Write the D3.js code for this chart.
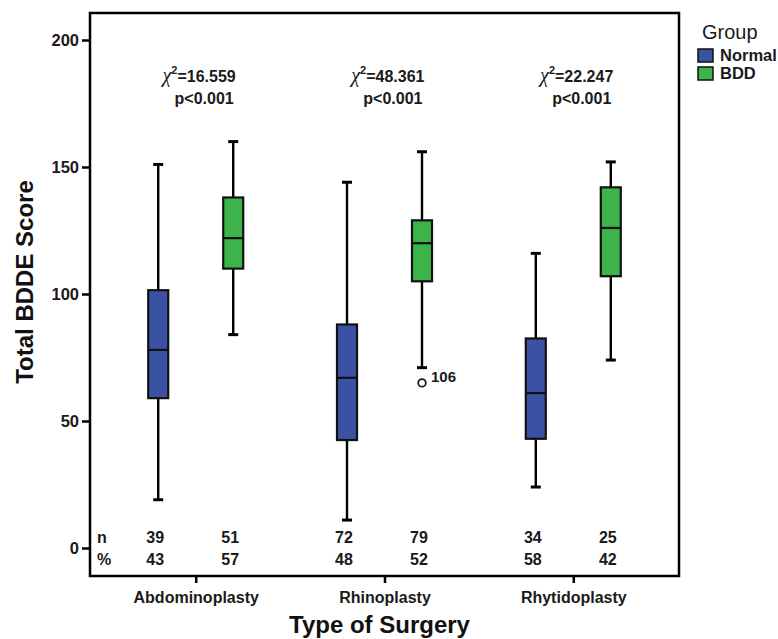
<!DOCTYPE html>
<html>
<head>
<meta charset="utf-8">
<script src="https://cdn.jsdelivr.net/npm/d3@7"></script>
<style>
body { margin: 0; background: #fff; }
text { font-family: "Liberation Sans", Arial, sans-serif; }
</style>
</head>
<body>
<svg width="778" height="639"></svg>
<script>
const surgeries = ["Abdominoplasty", "Rhinoplasty", "Rhytidoplasty"];
const groups = ["Normal", "BDD"];
const colors = ["#3b51a3", "#3cb44a"];

// [whiskerLow, q1, median, q3, whiskerHigh] per surgery, per group
const normalStats = [
    [19, 59, 78, 101.5, 151],
    [11, 42.5, 67, 88, 144],
    [24, 43, 61, 82.5, 116]
];
const bddStats = [
    [84, 110, 122, 138, 160],
    [71, 105, 120, 129, 156],
    [74, 107, 126, 142, 152]
];
const outliers = [{ surgery: "Rhinoplasty", group: 1, value: 65, label: "106" }];

const nCounts = [[39, 51], [72, 79], [34, 25]];
const percents = [[43, 57], [48, 52], [58, 42]];
const chiValues = ["16.559", "48.361", "22.247"];
const pValues = ["p<0.001", "p<0.001", "p<0.001"];
const yTicks = [0, 50, 100, 150, 200];

const svg = d3.select("svg");
const plotLeft = 90, plotRight = 679, plotTop = 13, plotBottom = 576;

const x = d3.scalePoint()
    .domain(surgeries)
    .range([plotLeft, plotRight])
    .padding(0.56);

const y = d3.scaleLinear()
    .domain([0, 200])
    .range([548, 40]);

const offset = 37.5;
const boxW = 20;
const capW = 10;
const ink = "#1a1a1a";

// frame
svg.append("rect")
    .attr("x", plotLeft).attr("y", plotTop)
    .attr("width", plotRight - plotLeft).attr("height", plotBottom - plotTop)
    .attr("fill", "none").attr("stroke", "#000").attr("stroke-width", 2.5);

// y axis
const yAxis = svg.append("g")
    .attr("transform", `translate(${plotLeft},0)`)
    .call(d3.axisLeft(y).tickValues(yTicks).tickSize(8).tickPadding(3));
yAxis.select(".domain").remove();
yAxis.selectAll("line").attr("stroke", "#000").attr("stroke-width", 2.5);
yAxis.selectAll("text")
    .attr("font-size", 16.5).attr("font-weight", "bold").attr("fill", ink)
    .style("font-family", "'Liberation Sans', Arial, sans-serif");

// x axis
const xAxis = svg.append("g")
    .attr("transform", `translate(0,${plotBottom})`)
    .call(d3.axisBottom(x).tickSize(7));
xAxis.select(".domain").remove();
xAxis.selectAll("line").attr("stroke", "#000").attr("stroke-width", 2.5);
xAxis.selectAll("text")
    .attr("font-size", 16).attr("font-weight", "bold").attr("fill", ink)
    .style("font-family", "'Liberation Sans', Arial, sans-serif")
    .attr("y", 27).attr("dy", 0);

// boxes
const boxes = [];
surgeries.forEach((s, i) => {
    [normalStats[i], bddStats[i]].forEach((st, g) => {
        boxes.push({ surgery: s, group: g, stats: st });
    });
});

const bx = d => x(d.surgery) + (d.group === 0 ? -offset : offset);

const bg = svg.append("g").selectAll("g")
    .data(boxes)
    .join("g");

bg.append("line")
    .attr("x1", bx).attr("x2", bx)
    .attr("y1", d => y(d.stats[0])).attr("y2", d => y(d.stats[4]))
    .attr("stroke", "#000").attr("stroke-width", 2.4);

bg.selectAll("line.cap")
    .data(d => [d.stats[0], d.stats[4]].map(v => ({ v, cx: bx(d) })))
    .join("line")
    .attr("class", "cap")
    .attr("x1", d => d.cx - capW / 2).attr("x2", d => d.cx + capW / 2)
    .attr("y1", d => y(d.v)).attr("y2", d => y(d.v))
    .attr("stroke", "#000").attr("stroke-width", 3);

bg.append("rect")
    .attr("x", d => bx(d) - boxW / 2)
    .attr("width", boxW)
    .attr("y", d => y(d.stats[3]))
    .attr("height", d => y(d.stats[1]) - y(d.stats[3]))
    .attr("fill", d => colors[d.group])
    .attr("stroke", "#111").attr("stroke-width", 2.2);

bg.append("line")
    .attr("x1", d => bx(d) - boxW / 2).attr("x2", d => bx(d) + boxW / 2)
    .attr("y1", d => y(d.stats[2])).attr("y2", d => y(d.stats[2]))
    .attr("stroke", "#111").attr("stroke-width", 2.2);

// outliers
outliers.forEach(o => {
    const ox = x(o.surgery) + (o.group === 0 ? -offset : offset);
    svg.append("circle")
        .attr("cx", ox).attr("cy", y(o.value)).attr("r", 3.8)
        .attr("fill", "none").attr("stroke", ink).attr("stroke-width", 1.8);
    svg.append("text")
        .attr("x", ox + 9).attr("y", y(o.value) - 1)
        .attr("font-size", 15).attr("font-weight", "bold").attr("fill", ink)
        .text(o.label);
});

// chi-square annotations
surgeries.forEach((s, i) => {
    const t = svg.append("text")
        .attr("x", x(s) + 40).attr("y", 82)
        .attr("text-anchor", "end")
        .attr("font-size", 16).attr("font-weight", "bold").attr("fill", ink);
    t.append("tspan")
        .style("font-family", "'Liberation Serif', 'DejaVu Serif', serif")
        .attr("font-style", "italic").attr("font-weight", "normal").attr("font-size", 20)
        .text("\u03c7");
    t.append("tspan").attr("dy", -8).attr("font-size", 11).text("2");
    t.append("tspan").attr("dy", 8).text("=" + chiValues[i]);

    svg.append("text")
        .attr("x", x(s) + 38).attr("y", 104)
        .attr("text-anchor", "end")
        .attr("font-size", 16).attr("font-weight", "bold").attr("fill", ink)
        .text(pValues[i]);
});

// n and % rows
svg.append("text").attr("x", 97).attr("y", 543)
    .attr("font-size", 16).attr("font-weight", "bold").attr("fill", ink).text("n");
svg.append("text").attr("x", 97).attr("y", 565)
    .attr("font-size", 16).attr("font-weight", "bold").attr("fill", ink).text("%");

surgeries.forEach((s, i) => {
    [0, 1].forEach(g => {
        const cx = x(s) + (g === 0 ? -offset : offset) - 3;
        svg.append("text").attr("x", cx).attr("y", 543).attr("text-anchor", "middle")
            .attr("font-size", 16).attr("font-weight", "bold").attr("fill", ink)
            .text(nCounts[i][g]);
        svg.append("text").attr("x", cx).attr("y", 565).attr("text-anchor", "middle")
            .attr("font-size", 16).attr("font-weight", "bold").attr("fill", ink)
            .text(percents[i][g]);
    });
});

// axis titles
svg.append("text")
    .attr("x", x("Rhinoplasty") - 5).attr("y", 633)
    .attr("text-anchor", "middle")
    .attr("font-size", 24).attr("font-weight", "bold").attr("fill", "#111")
    .text("Type of Surgery");

svg.append("text")
    .attr("transform", "translate(33,282) rotate(-90)")
    .attr("text-anchor", "middle")
    .attr("font-size", 24).attr("font-weight", "bold").attr("fill", "#111")
    .text("Total BDDE Score");

// legend
svg.append("text")
    .attr("x", 702).attr("y", 39)
    .attr("font-size", 20).attr("fill", ink)
    .text("Group");

const lg = svg.append("g").selectAll("g")
    .data(groups)
    .join("g")
    .attr("transform", (d, i) => `translate(698,${49 + i * 18})`);
lg.append("rect")
    .attr("width", 15).attr("height", 13)
    .attr("fill", (d, i) => colors[i])
    .attr("stroke", "#111").attr("stroke-width", 1.5);
lg.append("text")
    .attr("x", 22).attr("y", 12)
    .attr("font-size", 16.5).attr("font-weight", "bold").attr("fill", ink)
    .text(d => d);
</script>
</body>
</html>
